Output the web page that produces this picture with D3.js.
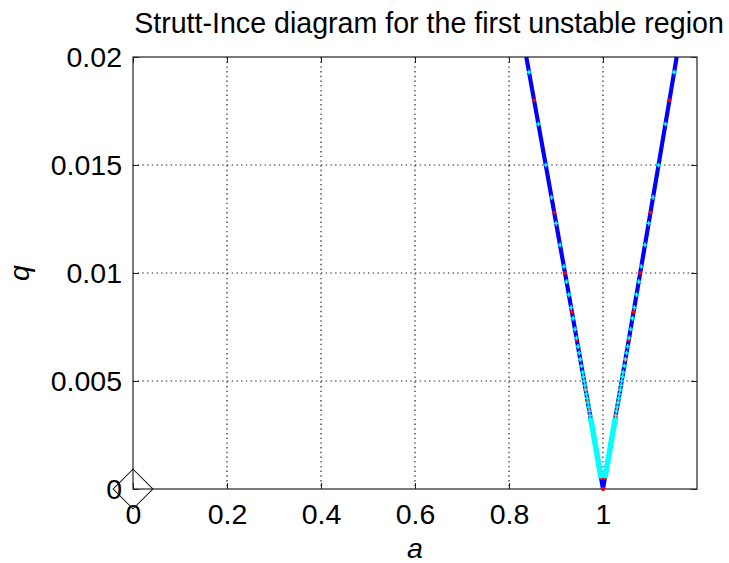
<!DOCTYPE html>
<html>
<head>
<meta charset="utf-8">
<script src="https://cdn.jsdelivr.net/npm/d3@7"></script>
<style>
  body { margin: 0; background: #fff; }
  text { font-family: "Liberation Sans", Arial, sans-serif; fill: #000; }
</style>
</head>
<body>
<script>

// boundary curves of the first unstable region
var branchQ  = [0, 0.005, 0.01, 0.015, 0.02];
var leftA    = [1, 0.9598, 0.9192, 0.8782, 0.8368];
var rightA   = [1, 1.0398, 1.0792, 1.1182, 1.1568];

// cyan sample points along both boundaries
var cyanQ      = [0.0193, 0.0169, 0.0150, 0.0135, 0.0123, 0.0113, 0.0103, 0.0096, 0.0090, 0.0084,
                  0.0079, 0.0074, 0.0070, 0.0066, 0.0063, 0.0060, 0.0057, 0.0054, 0.0052, 0.0050,
                  0.0048, 0.0046, 0.0044, 0.0042, 0.0040, 0.0038, 0.0036, 0.0034];
var cyanLeftA  = [0.8426, 0.8625, 0.8782, 0.8905, 0.9004, 0.9086, 0.9168, 0.9225, 0.9274, 0.9322,
                  0.9363, 0.9404, 0.9436, 0.9469, 0.9493, 0.9517, 0.9541, 0.9566, 0.9582, 0.9598,
                  0.9614, 0.9630, 0.9646, 0.9663, 0.9679, 0.9695, 0.9711, 0.9727];
var cyanRightA = [1.1514, 1.1329, 1.1182, 1.1065, 1.0972, 1.0894, 1.0815, 1.0761, 1.0714, 1.0666,
                  1.0627, 1.0588, 1.0556, 1.0525, 1.0501, 1.0477, 1.0453, 1.0430, 1.0414, 1.0398,
                  1.0382, 1.0366, 1.0350, 1.0335, 1.0319, 1.0303, 1.0287, 1.0271];

// near the tip the cyan samples merge into a solid band
var bandQ      = [0.0005, 0.0033];
var bandLeftA  = [0.9960, 0.9736];
var bandRightA = [1.0040, 1.0264];

// red sample points
var redQ      = [0.0180, 0.0128, 0.0100, 0.0082, 0.0069, 0.0060, 0.0052, 0.0046, 0.0041, 0.0037,
                 0.0034, 0.0031, 0.0028, 0.0025, 0.0015, 0.0005, 0];
var redLeftA  = [0.8534, 0.8963, 0.9192, 0.9339, 0.9444, 0.9517, 0.9582, 0.9630, 0.9671, 0.9703,
                 0.9727, 0.9751, 0.9776, 0.9800, 0.9880, 0.9960, 1];
var redRightA = [1.1414, 1.1011, 1.0792, 1.0651, 1.0548, 1.0477, 1.0414, 1.0366, 1.0327, 1.0295,
                 1.0271, 1.0247, 1.0223, 1.0200, 1.0120, 1.0040, 1];

// marker at the origin
var originA = [0];
var originQ = [0];

var xTicks = [0, 0.2, 0.4, 0.6, 0.8, 1];
var xTickLabels = ["0", "0.2", "0.4", "0.6", "0.8", "1"];
var yTicks = [0, 0.005, 0.01, 0.015, 0.02];
var yTickLabels = ["0", "0.005", "0.01", "0.015", "0.02"];

var margin = {top: 57, right: 32, bottom: 74, left: 133},
    width = 729 - margin.left - margin.right,
    height = 563 - margin.top - margin.bottom;

var x = d3.scaleLinear().domain([0, 1.2]).range([0, width]);
var y = d3.scaleLinear().domain([0, 0.02]).range([height, 0]);

var svg = d3.select("body").append("svg")
    .attr("width", 729)
    .attr("height", 563);

var g = svg.append("g")
    .attr("transform", "translate(" + margin.left + "," + margin.top + ")");

// dotted grid
g.selectAll(".gx").data(xTicks.slice(1))
  .enter().append("line")
    .attr("x1", function(d) { return x(d); })
    .attr("x2", function(d) { return x(d); })
    .attr("y1", 0).attr("y2", height)
    .style("stroke", "#222").style("stroke-width", 1.2)
    .style("stroke-dasharray", "1.4,3.3");

g.selectAll(".gy").data(yTicks.slice(1, -1))
  .enter().append("line")
    .attr("y1", function(d) { return y(d); })
    .attr("y2", function(d) { return y(d); })
    .attr("x1", 0).attr("x2", width)
    .style("stroke", "#222").style("stroke-width", 1.2)
    .style("stroke-dasharray", "1.4,3.3");

// axes: ticks point inward on all four sides
function fmt(ticks, labels) {
  return function(d) { return labels[ticks.indexOf(d)]; };
}

var xAxis = g.append("g")
    .attr("transform", "translate(0," + height + ")")
    .call(d3.axisBottom(x).tickValues(xTicks).tickFormat(fmt(xTicks, xTickLabels))
      .tickSizeInner(-6).tickSizeOuter(0).tickPadding(15));

var yAxis = g.append("g")
    .call(d3.axisLeft(y).tickValues(yTicks).tickFormat(fmt(yTicks, yTickLabels))
      .tickSizeInner(-6).tickSizeOuter(0).tickPadding(11));

var xTop = g.append("g")
    .call(d3.axisTop(x).tickValues(xTicks).tickFormat("").tickSizeInner(-6).tickSizeOuter(0));

var yRight = g.append("g")
    .attr("transform", "translate(" + width + ",0)")
    .call(d3.axisRight(y).tickValues(yTicks).tickFormat("").tickSizeInner(-6).tickSizeOuter(0));

[xAxis, yAxis, xTop, yRight].forEach(function(a) {
  a.select(".domain").remove();
  a.selectAll(".tick line").style("stroke", "#222");
  a.selectAll("text").style("font-size", "28.5px").style("font-family", "'Liberation Sans', Arial, sans-serif");
});

// box
g.append("rect")
    .attr("width", width).attr("height", height)
    .style("fill", "none").style("stroke", "#222").style("stroke-width", 1.2);

// boundary lines
var line = d3.line()
    .x(function(d) { return x(d[0]); })
    .y(function(d) { return y(d[1]); });

[leftA, rightA].forEach(function(arr) {
  g.append("path")
      .datum(arr.map(function(a, i) { return [a, branchQ[i]]; }))
      .attr("d", line)
      .style("fill", "none")
      .style("stroke", "#0000ff")
      .style("stroke-width", 4.2);
});

// red samples
[redLeftA, redRightA].forEach(function(arr) {
  g.selectAll(null).data(arr.map(function(a, i) { return [a, redQ[i]]; }))
    .enter().append("circle")
      .attr("cx", function(d) { return x(d[0]); })
      .attr("cy", function(d) { return y(d[1]); })
      .attr("r", 1.9)
      .style("fill", "#ff0000");
});

// cyan samples
[cyanLeftA, cyanRightA].forEach(function(arr) {
  g.selectAll(null).data(arr.map(function(a, i) { return [a, cyanQ[i]]; }))
    .enter().append("path")
      .attr("transform", function(d) { return "translate(" + x(d[0]) + "," + y(d[1]) + ")"; })
      .attr("d", d3.symbol(d3.symbolCross, 12))
      .style("fill", "#00ffff");
});

[bandLeftA, bandRightA].forEach(function(arr) {
  g.append("path")
      .datum(arr.map(function(a, i) { return [a, bandQ[i]]; }))
      .attr("d", line)
      .style("fill", "none")
      .style("stroke", "#00ffff")
      .style("stroke-width", 5.5);
});

// diamond at the origin
g.selectAll(".origin").data(originA)
  .enter().append("path")
    .attr("transform", function(d, i) {
      return "translate(" + x(d) + "," + y(originQ[i]) + ") rotate(45)";
    })
    .attr("d", d3.symbol(d3.symbolSquare, 790))
    .style("fill", "none")
    .style("stroke", "#111")
    .style("stroke-width", 1);

// title and axis labels
svg.append("text")
    .attr("x", 429).attr("y", 33)
    .attr("text-anchor", "middle")
    .style("font-size", "28.6px")
    .text("Strutt-Ince diagram for the first unstable region");

svg.append("text")
    .attr("x", margin.left + width / 2).attr("y", 558)
    .attr("text-anchor", "middle")
    .style("font-size", "28.5px").style("font-style", "italic")
    .text("a");

svg.append("text")
    .attr("transform", "translate(29," + (margin.top + height / 2) + ") rotate(-90)")
    .attr("text-anchor", "middle")
    .style("font-size", "28.5px").style("font-style", "italic")
    .text("q");

</script>
</body>
</html>
